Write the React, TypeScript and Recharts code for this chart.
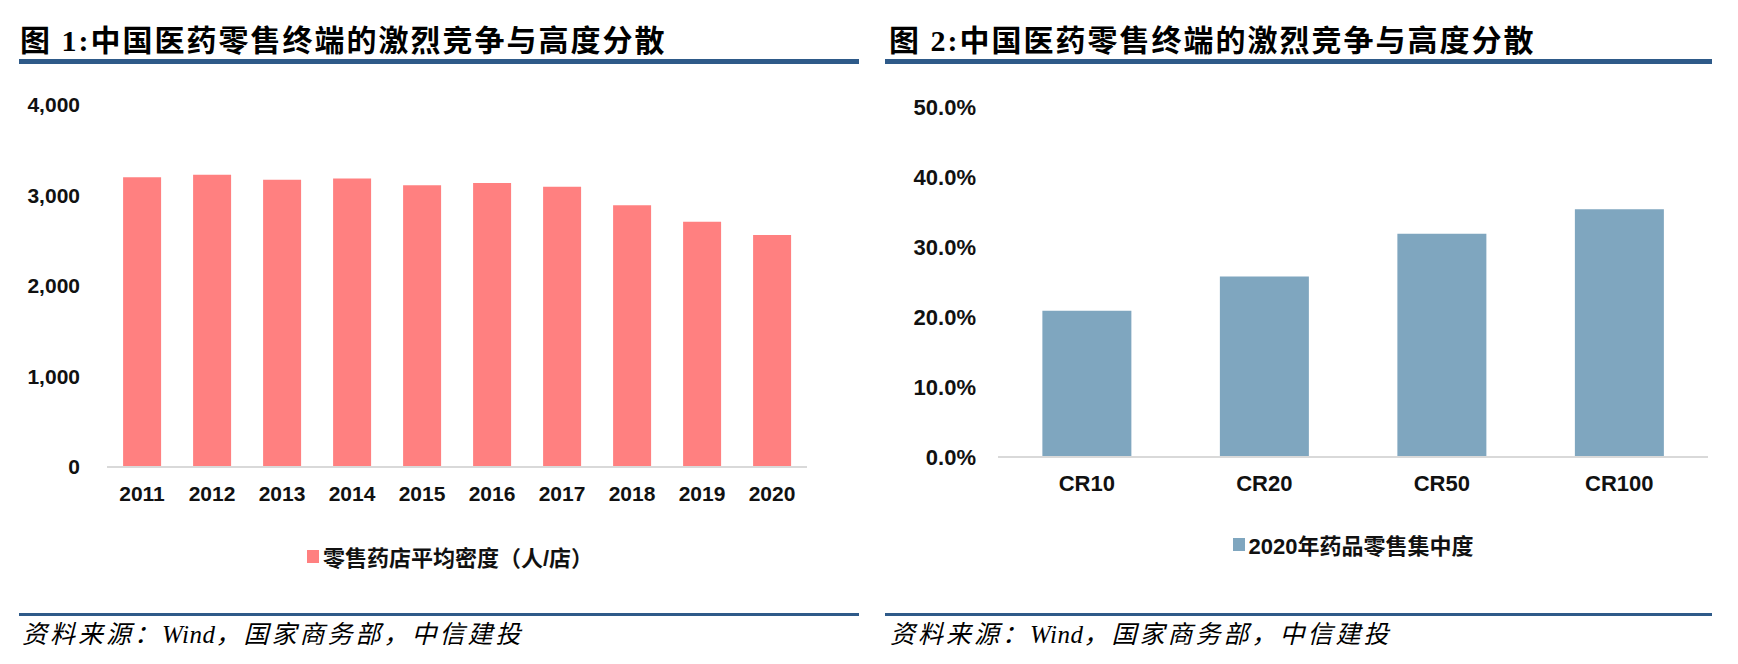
import React from 'react';
import { BarChart, Bar, XAxis, YAxis, Legend } from 'recharts';

// 图1 数据：零售药店平均密度（人/店）
const years = ['2011', '2012', '2013', '2014', '2015', '2016', '2017', '2018', '2019', '2020'];
const densityValues = [3201, 3228, 3175, 3188, 3113, 3138, 3097, 2891, 2711, 2564];
const densityTicks = [0, 1000, 2000, 3000, 4000];

// 图2 数据：2020年药品零售集中度
const crLabels = ['CR10', 'CR20', 'CR50', 'CR100'];
const crValues = [0.209, 0.258, 0.319, 0.354];
const crTicks = [0, 0.1, 0.2, 0.3, 0.4, 0.5];

const densityName = '零售药店平均密度（人/店）';
const crName = '2020年药品零售集中度';

const densityData = years.map((y, i) => ({ name: y, value: densityValues[i] }));
const crData = crLabels.map((c, i) => ({ name: c, value: crValues[i] }));

const NAVY = '#2E5A89';
const tickFont = "'Liberation Sans', Arial, 'Noto Sans CJK SC', sans-serif";

// legend height is fixed so that the plot area stays where we want it
const renderLegend = (props: any) => {
    const item = props.payload && props.payload[0];
    if (!item) return null;
    return (
        <div style={{ height: 30, display: 'flex', justifyContent: 'center', alignItems: 'center', fontFamily: tickFont, fontWeight: 700, fontSize: 22, color: '#111' }}>
            <span style={{ display: 'inline-block', width: 12, height: 13, background: item.color, marginRight: 4 }} />
            <span>{item.value}</span>
        </div>
    );
};

const titleStyle: React.CSSProperties = {
    position: 'absolute',
    top: 22,
    fontFamily: "'Liberation Serif', 'Noto Sans CJK SC', serif",
    fontWeight: 700,
    fontSize: 30,
    letterSpacing: 2,
    color: '#000',
    whiteSpace: 'nowrap',
    lineHeight: '38px',
};

const sourceStyle: React.CSSProperties = {
    position: 'absolute',
    top: 620,
    fontFamily: "'Liberation Serif', 'Noto Sans CJK SC', serif",
    fontStyle: 'italic',
    fontSize: 25,
    letterSpacing: 3,
    color: '#000',
    whiteSpace: 'nowrap',
    lineHeight: '30px',
};

const rule = (left: number, width: number, top: number, h: number): React.CSSProperties => ({
    position: 'absolute', left, width, top, height: h, background: NAVY,
});

const Source = () => (
    <>资料来源：<span style={{ letterSpacing: 0.5 }}>Wind</span>，国家商务部，中信建投</>
);

const App = () => (
    <div style={{ position: 'absolute', left: 0, top: 0, width: 1738, height: 664, background: '#fff', overflow: 'hidden' }}>
        <div style={{ ...titleStyle, left: 20 }}>图 1:中国医药零售终端的激烈竞争与高度分散</div>
        <div style={{ ...titleStyle, left: 889 }}>图 2:中国医药零售终端的激烈竞争与高度分散</div>
        <div style={rule(19, 840, 59, 5)} />
        <div style={rule(885, 827, 59, 5)} />

        <div style={{ position: 'absolute', left: 0, top: 0 }}>
            <BarChart width={870} height={600} data={densityData} margin={{ top: 105, right: 63, bottom: 73, left: 0 }} barCategoryGap="23%">
                <XAxis dataKey="name" height={30} axisLine={{ stroke: '#D9D9D9', strokeWidth: 2 }} tickLine={false} tickSize={0} tickMargin={19}
                    tick={{ fill: '#111', fontSize: 21, fontWeight: 700, fontFamily: tickFont }} interval={0} />
                <YAxis width={107} domain={[0, 4000]} ticks={densityTicks} axisLine={false} tickLine={false} tickSize={0} tickMargin={27}
                    tickFormatter={(v: number) => v.toLocaleString('en-US')}
                    tick={{ fill: '#111', fontSize: 21, fontWeight: 700, fontFamily: tickFont }} />
                <Legend content={renderLegend} wrapperStyle={{ top: 541, left: 100, width: 700 }} />
                <Bar dataKey="value" name={densityName} fill="#FF8080" isAnimationActive={false} />
            </BarChart>
        </div>

        <div style={{ position: 'absolute', left: 870, top: 0 }}>
            <BarChart width={868} height={600} data={crData} margin={{ top: 107, right: 30, bottom: 83, left: 0 }} barCategoryGap="25%">
                <XAxis dataKey="name" height={30} axisLine={{ stroke: '#D9D9D9', strokeWidth: 2 }} tickLine={false} tickSize={0} tickMargin={18}
                    tick={{ fill: '#111', fontSize: 22, fontWeight: 700, fontFamily: tickFont }} interval={0} />
                <YAxis width={128} domain={[0, 0.5]} ticks={crTicks} axisLine={false} tickLine={false} tickSize={0} tickMargin={22}
                    tickFormatter={(v: number) => (v * 100).toFixed(1) + '%'}
                    tick={{ fill: '#111', fontSize: 22, fontWeight: 700, fontFamily: tickFont }} />
                <Legend content={renderLegend} wrapperStyle={{ top: 529, left: 128, width: 710 }} />
                <Bar dataKey="value" name={crName} fill="#7FA6BF" isAnimationActive={false} />
            </BarChart>
        </div>

        <div style={rule(19, 840, 613, 3)} />
        <div style={rule(885, 827, 613, 3)} />
        <div style={{ ...sourceStyle, left: 22 }}><Source /></div>
        <div style={{ ...sourceStyle, left: 890 }}><Source /></div>
    </div>
);

export default App;
